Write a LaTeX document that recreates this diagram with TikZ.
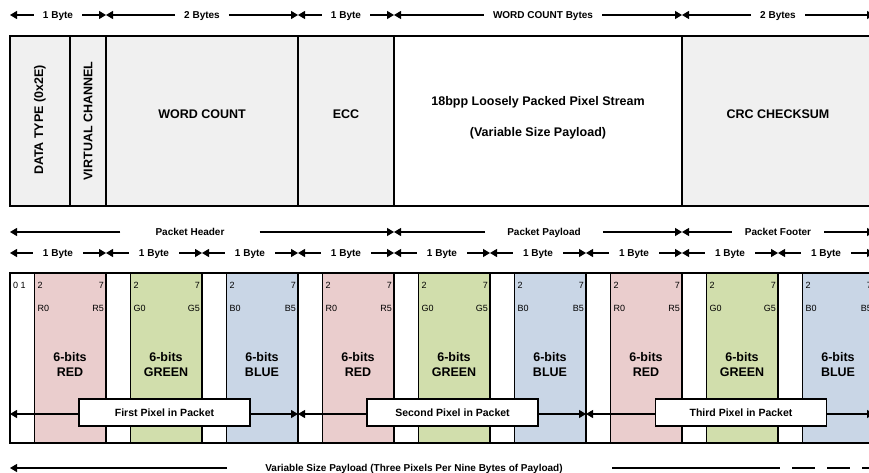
\documentclass[tikz,border=0pt]{standalone}
\usepackage{fontspec}
\setmainfont{Liberation Sans}
\usetikzlibrary{arrows.meta}
\definecolor{redfill}{RGB}{234,205,205}
\definecolor{greenfill}{RGB}{209,222,172}
\definecolor{bluefill}{RGB}{201,214,230}
\definecolor{grayfill}{RGB}{240,240,240}
\tikzset{
  arr/.style={-{Triangle[length=7pt,width=8pt]},line width=1.1pt},
  dimlbl/.style={font=\bfseries\fontsize{10}{12}\selectfont,inner ysep=0pt,inner xsep=#1,text height=7.2pt,text depth=0pt},
  dimlbl/.default=9pt,
  thick box/.style={draw,line width=1.4pt},
  toplbl/.style={font=\bfseries\fontsize{12.5}{15}\selectfont,align=center},
  bitnum/.style={font=\fontsize{9}{10}\selectfont,inner sep=0pt},
  colorlbl/.style={font=\bfseries\fontsize{12.5}{15}\selectfont,align=center},
  pixbox/.style={draw,fill=white,line width=1.4pt,minimum width=171pt,minimum height=27pt,inner sep=0pt,font=\bfseries\fontsize{10.5}{12}\selectfont},
}
\begin{document}
\begin{tikzpicture}[x=1pt,y=-1pt]
\useasboundingbox (0,0) rectangle (869,473);
\clip (0,0) rectangle (869,473);

% ---------- top dimension row ----------
\foreach \a/\b/\c/\t/\n in {10/106/58/1 Byte/1,106/298/202/2 Bytes/2,298/394/346/1 Byte/3,394/682/543/WORD COUNT Bytes/4,682/874/778/2 Bytes/5}{
  \coordinate (ta\n) at (\a,15);
  \coordinate (tb\n) at (\b,15);
  \node[dimlbl] (tl\n) at (\c,15) {\t};
  \draw[arr] (tl\n.west) -- (ta\n);
  \draw[arr] (tl\n.east) -- (tb\n);
}

% ---------- top boxes ----------
\draw[thick box,fill=grayfill] (10,36) rectangle (70,206);
\draw[thick box,fill=grayfill] (70,36) rectangle (106,206);
\draw[thick box,fill=grayfill] (106,36) rectangle (298,206);
\draw[thick box,fill=grayfill] (298,36) rectangle (394,206);
\draw[thick box,fill=white] (394,36) rectangle (682,206);
\draw[thick box,fill=grayfill] (682,36) rectangle (874,206);
\node[toplbl,rotate=90] (dtype) at (40,120) {DATA TYPE (0x2E)};
\node[toplbl,rotate=90] (vch) at (88,121) {VIRTUAL CHANNEL};
\node[toplbl] (wc) at (202,114) {WORD COUNT};
\node[toplbl] (ecc) at (346,114) {ECC};
\node[toplbl] (pl1) at (538,102) {18bpp Loosely Packed Pixel Stream};
\node[toplbl] (pl2) at (538,133) {(Variable Size Payload)};
\node[toplbl] (crc) at (778,114) {CRC CHECKSUM};

% ---------- packet section row ----------
\foreach \a/\b/\c/\t/\s/\n in {10/394/190/Packet Header/35pt/1,394/682/544/Packet Payload/22pt/2,682/874/778/Packet Footer/13pt/3}{
  \coordinate (pa\n) at (\a,232);
  \coordinate (pb\n) at (\b,232);
  \node[dimlbl=\s] (pl\n) at (\c,232) {\t};
  \draw[arr] (pl\n.west) -- (pa\n);
  \draw[arr] (pl\n.east) -- (pb\n);
}

% ---------- byte row ----------
\foreach \k in {0,...,8}{
  \pgfmathsetmacro\xa{10+96*\k}
  \pgfmathsetmacro\xb{106+96*\k}
  \pgfmathsetmacro\xc{58+96*\k}
  \coordinate (ba\k) at (\xa,253);
  \coordinate (bb\k) at (\xb,253);
  \node[dimlbl=10pt] (bl\k) at (\xc,253) {1 Byte};
  \draw[arr] (bl\k.west) -- (ba\k);
  \draw[arr] (bl\k.east) -- (bb\k);
}

% ---------- bottom bit boxes ----------
\foreach \k/\col in {0/redfill,1/greenfill,2/bluefill,3/redfill,4/greenfill,5/bluefill,6/redfill,7/greenfill,8/bluefill}{
  \pgfmathsetmacro\x{10+96*\k}
  \fill[\col] (\x+24,273) rectangle (\x+96,443);
  \draw[line width=0.8pt] (\x+24,273) -- (\x+24,443);
  \draw[line width=1.4pt] (\x+96,273) -- (\x+96,443);
}

% pixel spans
\foreach \a/\b/\c/\t/\n in {10/298/164.5/First/1,298/586/452.5/Second/2,586/874/741/Third/3}{
  \coordinate (xa\n) at (\a,414);
  \coordinate (xb\n) at (\b,414);
  \node[pixbox] (px\n) at (\c,412.5) {\t\ Pixel in Packet};
  \draw[arr] (px\n.west |- xa\n) -- (xa\n);
  \draw[arr] (px\n.east |- xb\n) -- (xb\n);
}

\draw[thick box] (10,273) rectangle (874,443);
\node[bitnum,anchor=west] (zo) at (13,285) {0 1};

\foreach \k/\L/\nm in {0/R/RED,1/G/GREEN,2/B/BLUE,3/R/RED,4/G/GREEN,5/B/BLUE,6/R/RED,7/G/GREEN,8/B/BLUE}{
  \pgfmathsetmacro\x{10+96*\k}
  \node[bitnum,anchor=west] (lo\k) at (\x+27.5,285) {2};
  \node[bitnum,anchor=east] (hi\k) at (\x+94,285) {7};
  \node[bitnum,anchor=west] (b0\k) at (\x+27.5,308) {\L0};
  \node[bitnum,anchor=east] (b5\k) at (\x+94,308) {\L5};
  \node[colorlbl] (cl\k) at (\x+60,364.5) {6-bits\\\nm};
}

% ---------- bottom payload row ----------
\node[dimlbl=0pt] (var) at (414,468) {Variable Size Payload (Three Pixels Per Nine Bytes of Payload)};
\coordinate (v0) at (10,468);
\coordinate (vl) at (227,468);
\coordinate (vr) at (612,468);
\coordinate (vm) at (780,468);
\coordinate (vd) at (792,468);
\coordinate (ve) at (880,468);
\draw[arr] (vl) -- (v0);
\draw[line width=1.1pt] (vr) -- (vm);
\draw[line width=1.1pt,dash pattern=on 23pt off 12pt] (vd) -- (ve);
\end{tikzpicture}
\end{document}
